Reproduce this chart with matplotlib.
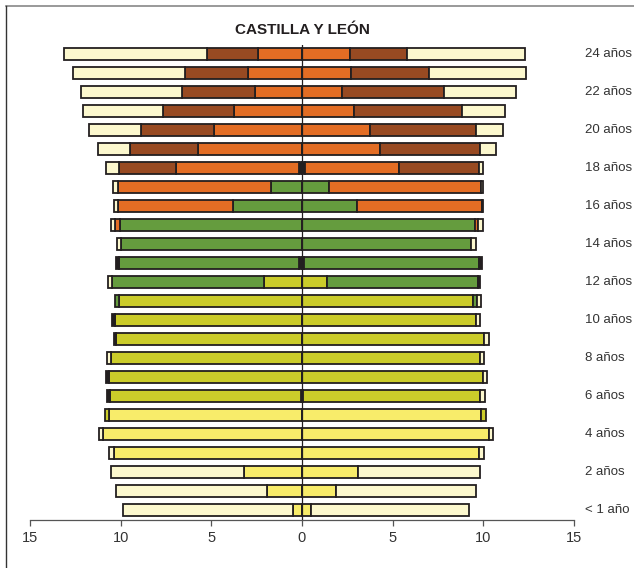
import numpy as np
import matplotlib.pyplot as plt
from matplotlib.lines import Line2D

plt.rcParams['font.family'] = ['Liberation Sans', 'DejaVu Sans']

edades = list(range(25))
etiquetas = {0: "< 1 año"}
for e in range(2, 25, 2):
    etiquetas[e] = "{} años".format(e)

# lado izquierdo (valores positivos, se dibujan hacia la izquierda), edad 0..24
izq_centro   = [0, 0, 0, 0, 0, 0, 0.07, 0, 0, 0, 0, 0, 0, 0.18, 0, 0, 0, 0, 0.18, 0, 0, 0, 0, 0, 0]
izq_infantil = [0.5, 1.93, 3.22, 10.35, 11.0, 10.63, 0, 0, 0, 0, 0, 0, 0, 0, 0, 0, 0, 0, 0, 0, 0, 0, 0, 0, 0]
izq_primaria = [0, 0, 0, 0, 0, 0.22, 10.52, 10.63, 10.53, 10.26, 10.31, 10.07, 2.08, 0, 0, 0, 0, 0, 0, 0, 0, 0, 0, 0, 0]
izq_eso      = [0, 0, 0, 0, 0, 0, 0, 0, 0, 0, 0, 0.23, 8.42, 9.89, 10.0, 10.04, 3.79, 1.73, 0, 0, 0, 0, 0, 0, 0]
izq_post     = [0, 0, 0, 0, 0, 0, 0, 0, 0, 0, 0, 0, 0, 0, 0, 0.27, 6.38, 8.40, 6.77, 5.74, 4.84, 3.75, 2.59, 3.0, 2.44]
izq_superior = [0, 0, 0, 0, 0, 0, 0, 0, 0, 0, 0, 0, 0, 0, 0, 0, 0, 0, 3.12, 3.75, 4.02, 3.90, 4.01, 3.45, 2.82]
izq_fuera    = [9.37, 8.33, 7.30, 0.28, 0.2, 0, 0, 0, 0.21, 0, 0, 0, 0.2, 0, 0.2, 0.21, 0.18, 0.29, 0.74, 1.78, 2.89, 4.45, 5.61, 6.16, 7.87]
izq_resto    = [0, 0, 0, 0, 0, 0, 0.15, 0.18, 0, 0.13, 0.17, 0, 0, 0.21, 0, 0, 0, 0, 0, 0, 0, 0, 0, 0, 0]

# lado derecho
der_centro   = [0, 0, 0, 0, 0, 0, 0.04, 0, 0, 0, 0, 0, 0, 0.11, 0, 0, 0, 0, 0.17, 0, 0, 0, 0, 0, 0]
der_infantil = [0.51, 1.88, 3.11, 9.74, 10.3, 9.87, 0, 0, 0, 0, 0, 0, 0, 0, 0, 0, 0, 0, 0, 0, 0, 0, 0, 0, 0]
der_primaria = [0, 0, 0, 0, 0, 0.26, 9.80, 9.97, 9.82, 10.06, 9.58, 9.45, 1.38, 0, 0, 0, 0, 0, 0, 0, 0, 0, 0, 0, 0]
der_eso      = [0, 0, 0, 0, 0, 0, 0, 0, 0, 0, 0, 0.18, 8.31, 9.63, 9.32, 9.55, 3.05, 1.49, 0, 0, 0, 0, 0, 0, 0]
der_post     = [0, 0, 0, 0, 0, 0, 0, 0, 0, 0, 0, 0, 0, 0, 0, 0.15, 6.85, 8.38, 5.18, 4.32, 3.75, 2.89, 2.22, 2.68, 2.65]
der_superior = [0, 0, 0, 0, 0, 0, 0, 0, 0, 0, 0, 0, 0, 0, 0, 0, 0, 0, 4.39, 5.52, 5.85, 5.95, 5.61, 4.34, 3.16]
der_fuera    = [8.70, 7.72, 6.73, 0.28, 0.25, 0, 0.26, 0.22, 0.24, 0.24, 0.24, 0.22, 0, 0, 0.26, 0.30, 0.1, 0.13, 0.26, 0.86, 1.47, 2.36, 3.97, 5.32, 6.51]
der_resto    = [0, 0, 0, 0, 0, 0, 0, 0, 0, 0, 0, 0, 0.15, 0.16, 0, 0, 0, 0, 0, 0, 0, 0, 0, 0, 0]

colores = ["#231f20", "#f8ec6a", "#cbcc2a", "#659c3e", "#e36d24", "#984a22", "#fcf8ce", "#231f20"]
izq = [izq_centro, izq_infantil, izq_primaria, izq_eso, izq_post, izq_superior, izq_fuera, izq_resto]
der = [der_centro, der_infantil, der_primaria, der_eso, der_post, der_superior, der_fuera, der_resto]

fig = plt.figure(figsize=(6.34, 5.68), dpi=100)
ax = fig.add_axes([30 / 634, (568 - 519.5) / 568, 544 / 634, 475 / 568])

y = np.array(edades)
for lado, signo in ((izq, -1), (der, 1)):
    acum = np.zeros(len(edades))
    for valores, color in zip(lado, colores):
        v = np.array(valores, dtype=float)
        m = v > 0
        ax.barh(y[m], signo * v[m], left=signo * acum[m], height=0.66,
                color=color, edgecolor="#231f20", linewidth=1.3, zorder=2)
        acum = acum + v

ax.axvline(0, color="#231f20", linewidth=0.9, zorder=3)

ax.set_xlim(-15, 15)
ax.set_ylim(-0.5, 24.5)
ax.set_xticks(range(-15, 16, 5))
ax.set_xticklabels([str(abs(t)) for t in range(-15, 16, 5)], fontsize=10.5, color="#333333")
ax.tick_params(axis="x", direction="out", length=4, width=0.9, color="#555555", pad=4)
ax.set_yticks([])
for s in ("top", "left", "right"):
    ax.spines[s].set_visible(False)
ax.spines["bottom"].set_color("#555555")
ax.spines["bottom"].set_linewidth(0.9)

for e, txt in etiquetas.items():
    ax.text(15.6, e, txt, ha="left", va="center", fontsize=9.5, color="#333333", clip_on=False)

fig.text(302 / 634, 1 - 30.5 / 568, "CASTILLA Y LEÓN", ha="center", va="center",
         fontsize=11, fontweight="bold", color="#231f20")

# marco
fig.add_artist(Line2D([6 / 634, 1], [1 - 6 / 568, 1 - 6 / 568], color="#888888", linewidth=1.2))
fig.add_artist(Line2D([6 / 634, 6 / 634], [0, 1 - 6 / 568], color="#333333", linewidth=1.0))

fig.savefig("out.png", dpi=100)
